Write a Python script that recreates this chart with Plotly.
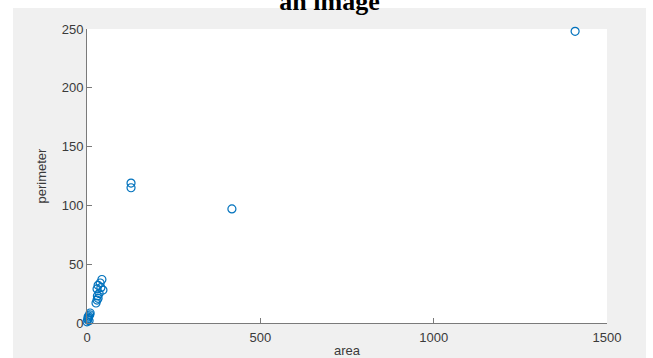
import plotly.graph_objects as go

area = [1408, 127, 127, 418, 43, 38, 32, 40, 46, 29, 35, 30, 32, 29, 26, 9, 8, 5, 4, 3, 2, 6, 0]
perimeter = [248, 119, 115, 97, 37, 34, 32, 30, 28, 29, 25, 23, 21, 19.5, 17, 8.5, 7, 6, 4, 5, 3, 2, 1]
x_ticks = [0, 500, 1000, 1500]
y_ticks = [0, 50, 100, 150, 200, 250]

W, H = 653, 358
L, R, T, B = 87, 607, 29, 323
pw, ph = R - L, B - T

def px(xp):
    return (xp - L) / pw

def py(yp):
    return (B - yp) / ph

fig = go.Figure()
fig.add_trace(go.Scatter(
    x=area, y=perimeter, mode="markers",
    marker=dict(symbol="circle-open", size=8, color="#0072BD", line=dict(width=1.2, color="#0072BD")),
    cliponaxis=False, showlegend=False,
))

fig.add_shape(type="rect", xref="paper", yref="paper", layer="below",
              x0=px(13), x1=px(646), y0=py(360), y1=py(8),
              fillcolor="#F0F0F0", line=dict(width=0))
fig.add_shape(type="rect", xref="paper", yref="paper", layer="below",
              x0=0, x1=1, y0=0, y1=1, fillcolor="white", line=dict(width=0))

axis_common = dict(
    showgrid=False, zeroline=False, showline=True, linecolor="#7a7a7a", linewidth=1,
    ticks="inside", ticklen=5, tickcolor="#7a7a7a", tickwidth=1,
    tickfont=dict(family="Liberation Sans, Arial", size=13, color="#3a3a3a"),
    mirror=False, automargin=False,
)

fig.update_layout(
    width=W, height=H,
    margin=dict(l=L, r=W - R, t=T, b=H - B, pad=0),
    paper_bgcolor="white", plot_bgcolor="white",
    title=dict(text="<b>an image</b>", font=dict(family="Liberation Serif, Times New Roman", size=26, color="black"),
               x=329.5 / W, xanchor="center", xref="container", yref="container",
               y=1 - 10 / H, yanchor="bottom"),
    xaxis=dict(range=[0, 1500], tickvals=x_ticks, ticktext=[str(v) for v in x_ticks],
               ticklabelstandoff=2,
               title=dict(text="area", font=dict(family="Liberation Sans, Arial", size=13, color="#3a3a3a"), standoff=8),
               **axis_common),
    yaxis=dict(range=[0, 250], tickvals=y_ticks, ticktext=[str(v) for v in y_ticks],
               title=dict(text="perimeter", font=dict(family="Liberation Sans, Arial", size=13, color="#3a3a3a"), standoff=12),
               **axis_common),
)

fig.write_html("out.html")
